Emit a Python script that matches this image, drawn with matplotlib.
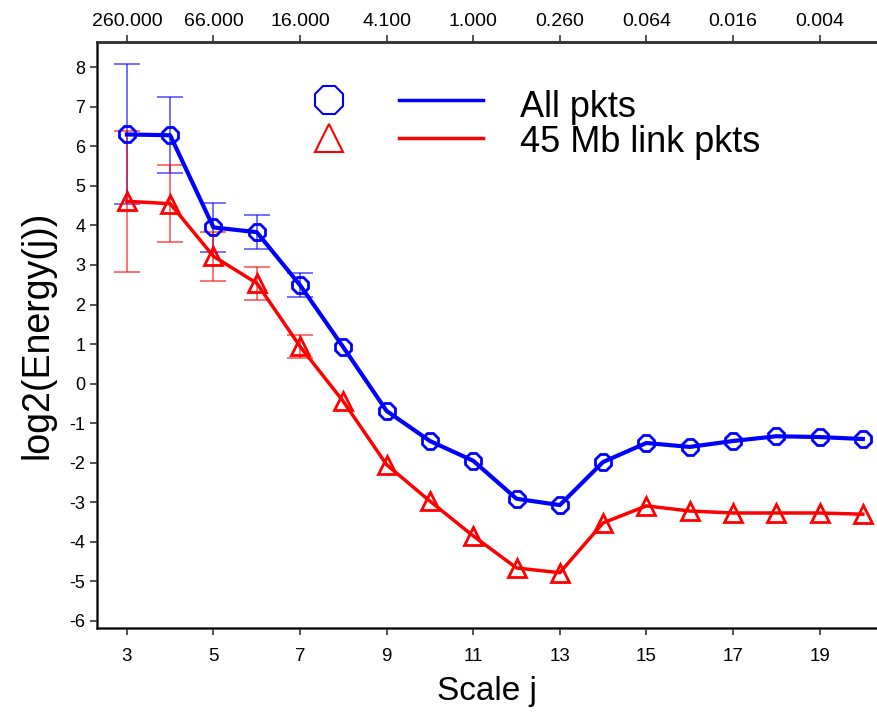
import matplotlib
matplotlib.use("Agg")
import matplotlib.pyplot as plt
import numpy as np

plt.rcParams['font.family'] = ['Liberation Sans', 'DejaVu Sans']
plt.rcParams['axes.unicode_minus'] = False

# scale j
scales = [3, 4, 5, 6, 7, 8, 9, 10, 11, 12, 13, 14, 15, 16, 17, 18, 19, 20]

# log2 energy, all packets
energy_all = [6.30, 6.28, 3.95, 3.83, 2.49, 0.92, -0.69, -1.45, -1.95, -2.91,
              -3.07, -1.98, -1.50, -1.60, -1.45, -1.33, -1.35, -1.40]
# log2 energy, 45 Mb link packets
energy_45 = [4.61, 4.55, 3.22, 2.54, 0.94, -0.45, -2.05, -2.97, -3.85, -4.66,
             -4.78, -3.52, -3.09, -3.22, -3.27, -3.27, -3.27, -3.30]

# confidence intervals (only first scales visible)
err_scales = [3, 4, 5, 6, 7]
err_all = [1.77, 0.96, 0.62, 0.43, 0.30]
err_45 = [1.78, 0.98, 0.62, 0.42, 0.29]

# top axis: time scale labels
top_ticks = [3, 5, 7, 9, 11, 13, 15, 17, 19]
top_labels = ['260.000', '66.000', '16.000', '4.100', '1.000', '0.260',
              '0.064', '0.016', '0.004']

fig = plt.figure(figsize=(8.78, 7.17), dpi=100)
ax = fig.add_axes([0.110, 0.124, 0.890, 0.817])

blue = '#0000ff'
red = '#ff0000'

# error bars
ax.errorbar(err_scales, energy_all[:5], yerr=err_all, fmt='none',
            ecolor=blue, alpha=0.6, elinewidth=1.3, capsize=9.5, capthick=1.3)
ax.errorbar(err_scales, energy_45[:5], yerr=err_45, fmt='none',
            ecolor=red, alpha=0.6, elinewidth=1.3, capsize=9.5, capthick=1.3)

ax.plot(scales, energy_all, color=blue, lw=3, marker='8', ms=13,
        mfc='none', mec=blue, mew=2, zorder=3)
ax.plot(scales, energy_45, color=red, lw=2.5, marker='^', ms=13,
        mfc='none', mec=red, mew=2, zorder=3)

ax.set_xlim(2.3, 20.35)
ax.set_ylim(-6.18, 8.63)
ax.set_xticks(top_ticks)
ax.set_yticks(range(-6, 9))

for s in ['left', 'bottom', 'top']:
    ax.spines[s].set_linewidth(1.8)
    ax.spines[s].set_color('#333333')
ax.spines['right'].set_visible(False)
ax.tick_params(axis='both', direction='out', length=5, width=1.2,
               color='#333333')
ax.tick_params(axis='x', labelsize=13.5, pad=9)
ax.tick_params(axis='y', labelsize=13, pad=3)

ax.set_xlabel('Scale j', fontsize=24, labelpad=8)
ax.set_ylabel('log2(Energy(j))', fontsize=27, labelpad=10)

ax2 = ax.twiny()
ax2.set_xlim(ax.get_xlim())
ax2.set_xticks(top_ticks)
ax2.set_xticklabels(top_labels)
ax2.tick_params(axis='x', direction='out', length=5, width=1.2,
                color='#333333', labelsize=14, pad=4)
ax2.spines['right'].set_visible(False)
ax2.spines['top'].set_linewidth(1.8)
ax2.spines['top'].set_color('#333333')

# legend drawn by hand
tr = ax.transAxes
ax.plot([0.298], [0.901], marker='8', ms=22, mfc='none', mec=blue, mew=1.5,
        transform=tr, clip_on=False)
ax.plot([0.298], [0.836], marker='^', ms=20, mfc='none', mec=red, mew=1.5,
        transform=tr, clip_on=False)
ax.plot([0.387, 0.494], [0.901, 0.901], color=blue, lw=2.5, transform=tr)
ax.plot([0.387, 0.494], [0.836, 0.836], color=red, lw=2.5, transform=tr)
ax.text(0.542, 0.873, 'All pkts', fontsize=26, va='baseline', transform=tr)
ax.text(0.542, 0.812, '45 Mb link pkts', fontsize=26, va='baseline',
        transform=tr)

fig.savefig('out.png', dpi=100)
